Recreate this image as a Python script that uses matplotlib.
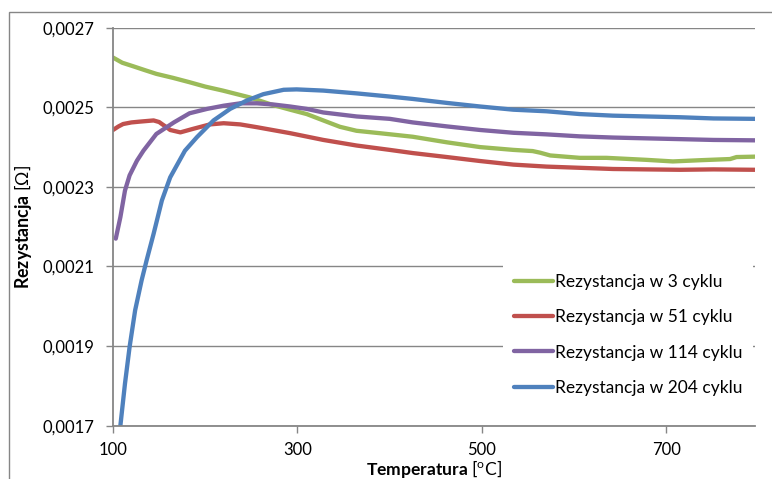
import numpy as np
import matplotlib.pyplot as plt
from matplotlib.ticker import FuncFormatter
from matplotlib.patches import Rectangle

plt.rcParams['font.family'] = ['Lato', 'DejaVu Sans']
plt.rcParams['mathtext.fontset'] = 'custom'
plt.rcParams['mathtext.rm'] = 'Lato'
plt.rcParams['mathtext.bf'] = 'Lato:bold'

# temperatura [oC] i rezystancja [Ohm] dla kolejnych cykli
t_3 = [100, 110, 122, 135, 147, 165, 183, 200, 219, 248, 273, 292, 310, 328, 346, 364,
       389, 425, 462, 498, 534, 555, 563, 574, 606, 635, 678, 707, 736, 769, 776, 796]
r_3 = [0.002625, 0.002612, 0.002603, 0.002593, 0.002584, 0.002574, 0.002563, 0.002552,
       0.002542, 0.002525, 0.002506, 0.002494, 0.002483, 0.002467, 0.002451, 0.002441,
       0.002435, 0.002426, 0.002412, 0.002400, 0.002393, 0.002390, 0.002386, 0.002379,
       0.002373, 0.002373, 0.002368, 0.002364, 0.002367, 0.002370, 0.002375, 0.002376]

t_51 = [100, 106, 111, 120, 129, 144, 150, 153, 158, 162, 173, 187, 205, 220, 238, 256,
        292, 328, 364, 400, 425, 462, 498, 534, 570, 606, 642, 678, 715, 751, 796]
r_51 = [0.002443, 0.002452, 0.002458, 0.002462, 0.002464, 0.002467, 0.002463, 0.002458,
        0.002450, 0.002443, 0.002437, 0.002446, 0.002457, 0.002460, 0.002457, 0.002450,
        0.002435, 0.002418, 0.002404, 0.002393, 0.002385, 0.002375, 0.002365, 0.002356,
        0.002351, 0.002348, 0.002345, 0.002344, 0.002343, 0.002344, 0.002343]

t_114 = [103, 108, 113, 118, 126, 133, 147, 166, 183, 202, 220, 238, 256, 274, 292, 310,
         328, 364, 400, 425, 462, 498, 534, 570, 606, 642, 678, 715, 751, 796]
r_114 = [0.002170, 0.002224, 0.002291, 0.002329, 0.002366, 0.002391, 0.002433, 0.002462,
         0.002485, 0.002496, 0.002504, 0.002510, 0.002510, 0.002507, 0.002502, 0.002496,
         0.002487, 0.002477, 0.002471, 0.002462, 0.002452, 0.002443, 0.002436, 0.002432,
         0.002427, 0.002424, 0.002422, 0.002420, 0.002418, 0.002417]

t_204 = [108, 113, 118, 124, 131, 136.5, 144, 153, 162, 178, 191, 209, 227, 245, 263, 285,
         299, 328, 364, 400, 425, 462, 498, 534, 570, 606, 642, 678, 715, 751, 796]
r_204 = [0.001700, 0.001806, 0.001898, 0.001990, 0.002065, 0.002116, 0.002182, 0.002266,
         0.002324, 0.002391, 0.002425, 0.002467, 0.002496, 0.002517, 0.002533, 0.002544,
         0.002545, 0.002542, 0.002535, 0.002527, 0.002521, 0.002511, 0.002502, 0.002494,
         0.002490, 0.002483, 0.002479, 0.002477, 0.002475, 0.002472, 0.002471]

serie = [
    (t_3, r_3, 'Rezystancja w 3 cyklu', '#9BBB59'),
    (t_51, r_51, 'Rezystancja w 51 cyklu', '#C0504D'),
    (t_114, r_114, 'Rezystancja w 114 cyklu', '#8064A2'),
    (t_204, r_204, 'Rezystancja w 204 cyklu', '#4F81BD'),
]

szary = '#868686'

fig = plt.figure(figsize=(7.72, 4.79), dpi=100)
ax = fig.add_axes([113 / 772, 1 - 425.7 / 479, 642 / 772, 398 / 479])

for t, r, nazwa, kolor in serie:
    ax.plot(t, r, color=kolor, lw=3.1, label=nazwa, solid_capstyle='round')

ax.set_xlim(100, 796)
ax.set_ylim(0.0017, 0.0027)
ax.set_xticks([100, 300, 500, 700])
ax.set_yticks(np.arange(0.0017, 0.00271, 0.0002))
ax.yaxis.set_major_formatter(FuncFormatter(lambda v, p: ('%.4f' % v).replace('.', ',')))
ax.grid(True, axis='y', color=szary, lw=1)
ax.set_axisbelow(True)

for s in ['top', 'right']:
    ax.spines[s].set_visible(False)
for s in ['left', 'bottom']:
    ax.spines[s].set_color(szary)
    ax.spines[s].set_linewidth(1.3)
ax.tick_params(axis='both', colors=szary, labelcolor='black', labelsize=12,
               length=5, width=1, direction='out')
ax.tick_params(axis='y', pad=8.5)
ax.tick_params(axis='x', pad=6.5)

ax.set_xlabel(r'$\mathbf{Temperatura}$ [$\mathrm{^{o}}$C]', fontsize=12.6, labelpad=0.5)
ax.set_ylabel(r'$\mathbf{Rezystancja}$ [Ω]', fontsize=12.8, labelpad=6)

leg = ax.legend(loc='center left', bbox_to_anchor=(0.608, 0.228), fontsize=12.5,
                frameon=True, facecolor='white', edgecolor='none', framealpha=1,
                fancybox=False, handlelength=2.25, handletextpad=0.12,
                labelspacing=1.1, borderpad=0.6, borderaxespad=0)

# ramka wokol wykresu
fig.patches.append(Rectangle((9 / 772, -0.05), 1.1, 1 - 11.7 / 479 + 0.05,
                             transform=fig.transFigure, fill=False,
                             edgecolor=szary, lw=1))

fig.savefig('out.png', dpi=100)
